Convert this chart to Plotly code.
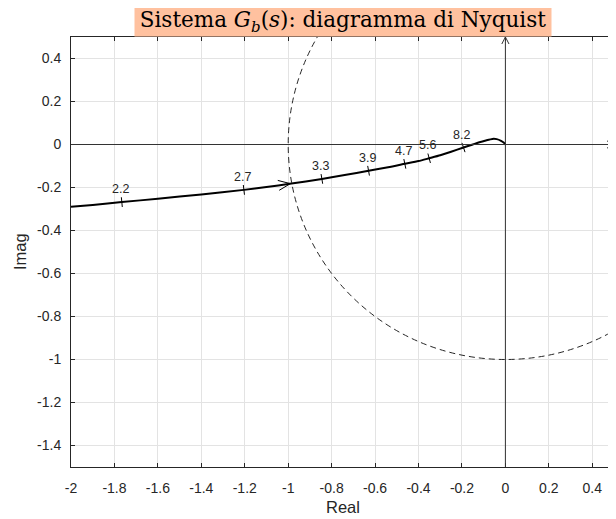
import numpy as np
import plotly.graph_objects as go

# ---- data ----
curve_re = [-2.00, -1.90, -1.766, -1.60, -1.40, -1.204, -1.10, -0.993, -0.845, -0.74,
            -0.63, -0.54, -0.463, -0.40, -0.351, -0.30, -0.25, -0.193, -0.15, -0.12,
            -0.09, -0.06, -0.04, -0.02, -0.008, 0.0]
curve_im = [-0.290, -0.281, -0.268, -0.252, -0.232, -0.211, -0.198, -0.183, -0.160, -0.142,
            -0.122, -0.106, -0.090, -0.077, -0.064, -0.050, -0.034, -0.014, 0.000, 0.0105,
            0.019, 0.026, 0.025, 0.017, 0.009, 0.0]

freq_labels = ['2.2', '2.7', '3.3', '3.9', '4.7', '5.6', '8.2']
freq_re = [-1.766, -1.204, -0.845, -0.63, -0.463, -0.351, -0.193]
freq_im = [-0.268, -0.211, -0.160, -0.122, -0.090, -0.064, -0.014]

arrow_re = -0.99
arrow_im = -0.182

x_tickvals = [-2, -1.8, -1.6, -1.4, -1.2, -1, -0.8, -0.6, -0.4, -0.2, 0, 0.2, 0.4]
x_ticktext = ['-2', '-1.8', '-1.6', '-1.4', '-1.2', '-1', '-0.8', '-0.6', '-0.4', '-0.2', '0', '0.2', '0.4']
y_tickvals = [-1.4, -1.2, -1, -0.8, -0.6, -0.4, -0.2, 0, 0.2, 0.4]
y_ticktext = ['-1.4', '-1.2', '-1', '-0.8', '-0.6', '-0.4', '-0.2', '0', '0.2', '0.4']

x_range = [-2, 0.5]
y_range = [-1.5, 0.5]

# page body has an 8px margin, so the figure is sized to fit the 616x519 window
W, H = 608, 511
ML, MR, MT, MB = 63, 2, 29, 52
axc = '#262626'

px_x = (W - ML - MR) / (x_range[1] - x_range[0])
px_y = (H - MT - MB) / (y_range[1] - y_range[0])

# tick orientation perpendicular to the curve (screen space)
slope = np.gradient(np.array(curve_im), np.array(curve_re))
slope_at = np.interp(freq_re, curve_re, slope)
tick_angles = list(-np.degrees(np.arctan(slope_at * px_y / px_x)))


def vhead(theta, length, half):
    """open V arrowhead path (pixel units, y up) pointing in direction theta"""
    d = np.array([np.cos(theta), np.sin(theta)])
    n = np.array([-np.sin(theta), np.cos(theta)])
    p1 = -length * d + half * n
    p2 = -length * d - half * n
    return f'M {p1[0]:.2f},{p1[1]:.2f} L 0,0 L {p2[0]:.2f},{p2[1]:.2f}'


fig = go.Figure()

# axes through origin
fig.add_shape(type='line', xref='x', yref='y', x0=x_range[0], x1=x_range[1], y0=0, y1=0,
              line=dict(color='#333333', width=1))
fig.add_shape(type='line', xref='x', yref='y', x0=0, x1=0, y0=y_range[0], y1=y_range[1],
              line=dict(color='#333333', width=1))
fig.add_shape(type='path', xref='x', yref='y', xsizemode='pixel', ysizemode='pixel',
              xanchor=x_range[1], yanchor=0, path=vhead(0.0, 7, 3.6),
              line=dict(color='#333333', width=1))
fig.add_shape(type='path', xref='x', yref='y', xsizemode='pixel', ysizemode='pixel',
              xanchor=0, yanchor=y_range[1], path=vhead(np.pi / 2, 7, 3.6),
              line=dict(color='#333333', width=1))

fig.add_trace(go.Scatter(x=curve_re, y=curve_im, mode='lines',
                         line=dict(color='black', width=2, shape='spline', smoothing=0.6),
                         hoverinfo='skip', showlegend=False))

fig.add_trace(go.Scatter(x=freq_re, y=freq_im, mode='markers',
                         marker=dict(symbol='line-ns', size=7, angle=tick_angles,
                                     line=dict(color='black', width=1)),
                         hoverinfo='skip', showlegend=False))

# curve direction arrow
arrow_slope = float(np.interp(arrow_re, curve_re, slope))
arrow_theta = np.arctan(arrow_slope * px_y / px_x)
fig.add_shape(type='path', xref='x', yref='y', xsizemode='pixel', ysizemode='pixel',
              xanchor=arrow_re, yanchor=arrow_im, path=vhead(arrow_theta, 12, 5),
              line=dict(color='black', width=1))

fig.add_shape(type='circle', xref='x', yref='y', x0=-1, y0=-1, x1=1, y1=1,
              line=dict(color=axc, width=1, dash='6px,4px'))

annotations = []
for lab, xr, yi in zip(freq_labels, freq_re, freq_im):
    annotations.append(dict(x=xr, y=yi, text=lab, showarrow=False, xref='x', yref='y',
                            yshift=13, xshift=-1.5,
                            font=dict(family='Liberation Sans', size=12.5, color=axc)))

# axis titles
annotations.append(dict(xref='paper', yref='paper', x=0.5, y=0, xanchor='center', yanchor='middle',
                        yshift=-40, showarrow=False, text='Real',
                        font=dict(family='Liberation Sans', size=16.5, color=axc)))
annotations.append(dict(xref='paper', yref='paper', x=0, y=0.5, xanchor='center', yanchor='middle',
                        xshift=-51, showarrow=False, text='Imag', textangle=-90,
                        font=dict(family='Liberation Sans', size=16.5, color=axc)))

# title
annotations.append(dict(xref='paper', yref='paper', x=0.5, y=1, xanchor='center', yanchor='bottom',
                        showarrow=False, bgcolor='#FFC19F', borderpad=0, width=416,
                        text='Sistema <i>G<sub>b</sub></i>(<i>s</i>): diagramma di Nyquist',
                        font=dict(family='DejaVu Serif', size=21.5, color='black')))

axis_common = dict(showgrid=True, gridcolor='#e3e3e3', gridwidth=1, zeroline=False,
                   showline=True, linecolor=axc, linewidth=1, mirror='ticks',
                   ticks='inside', ticklen=4, tickcolor=axc, tickwidth=1, automargin=False,
                   tickfont=dict(family='Liberation Sans', size=14, color=axc))

fig.update_xaxes(range=x_range, tickvals=x_tickvals, ticktext=x_ticktext,
                 ticklabelstandoff=8, **axis_common)
fig.update_yaxes(range=y_range, tickvals=y_tickvals, ticktext=y_ticktext,
                 ticklabelstandoff=6, **axis_common)

fig.update_layout(width=W, height=H, margin=dict(l=ML, r=MR, t=MT, b=MB, pad=0),
                  plot_bgcolor='white', paper_bgcolor='white',
                  annotations=annotations, showlegend=False)

fig.write_html('out.html')
